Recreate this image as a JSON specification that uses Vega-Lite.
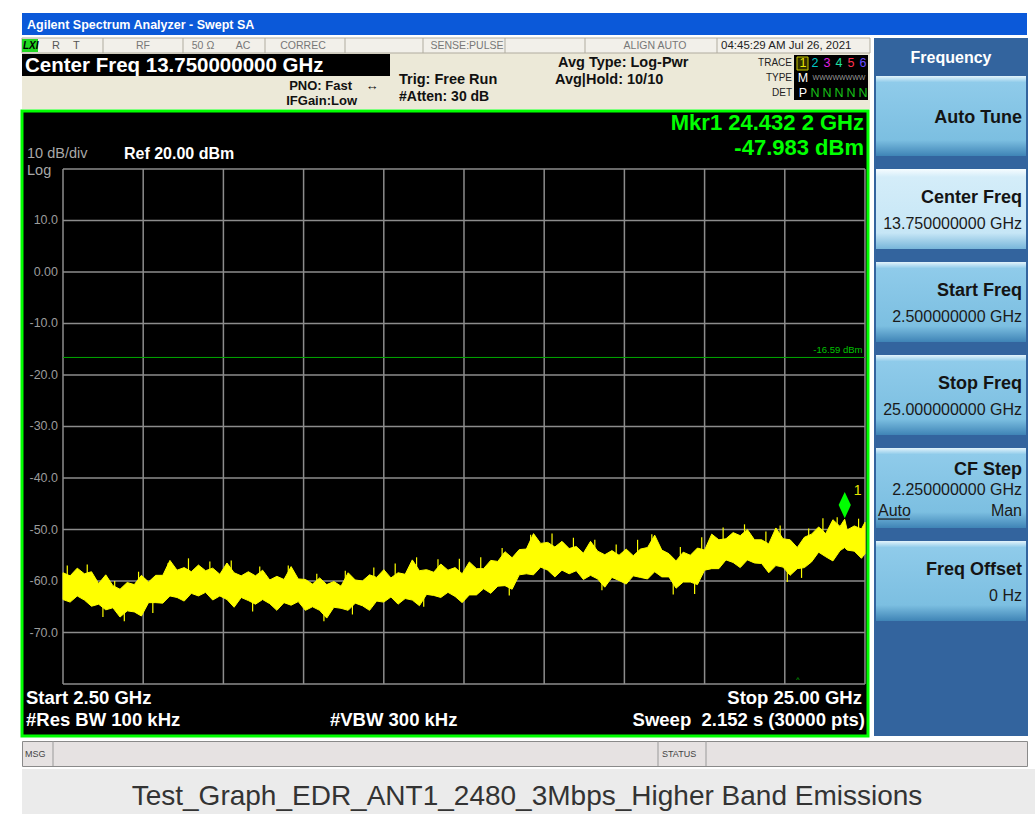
{
"$schema":"https://vega.github.io/schema/vega-lite/v6.json",
"background":"#ffffff",
"padding":{"left":20,"top":13,"right":0,"bottom":0},
"spacing":2,
"config":{"view":{"stroke":null},"font":"Liberation Sans","text":{"font":"Liberation Sans"}},
"datasets":{
"one":[{}],
"trace":[
{"f":2.5,"lo":-63.6,"hi":-58.4},{"f":2.7,"lo":-64.1,"hi":-59.0},{"f":2.9,"lo":-62.9,"hi":-57.5},{"f":3.1,"lo":-63.7,"hi":-58.6},{"f":3.3,"lo":-64.9,"hi":-58.2},{"f":3.5,"lo":-64.5,"hi":-60.5},{"f":3.7,"lo":-65.6,"hi":-58.8},{"f":3.9,"lo":-65.2,"hi":-60.9},{"f":4.1,"lo":-67.0,"hi":-61.6},{"f":4.3,"lo":-65.8,"hi":-60.3},{"f":4.5,"lo":-66.0,"hi":-60.7},{"f":4.7,"lo":-66.8,"hi":-58.9},{"f":4.9,"lo":-64.2,"hi":-60.2},{"f":5.1,"lo":-64.2,"hi":-58.9},{"f":5.3,"lo":-64.3,"hi":-58.9},{"f":5.5,"lo":-62.9,"hi":-56.0},{"f":5.7,"lo":-63.2,"hi":-57.9},{"f":5.9,"lo":-63.9,"hi":-57.4},{"f":6.1,"lo":-62.4,"hi":-58.2},{"f":6.3,"lo":-62.9,"hi":-56.9},{"f":6.5,"lo":-62.2,"hi":-58.0},{"f":6.7,"lo":-63.7,"hi":-57.5},{"f":6.9,"lo":-62.9,"hi":-58.7},{"f":7.1,"lo":-63.6,"hi":-56.5},{"f":7.3,"lo":-65.1,"hi":-58.4},{"f":7.5,"lo":-63.2,"hi":-59.0},{"f":7.7,"lo":-63.8,"hi":-58.2},{"f":7.9,"lo":-64.5,"hi":-59.0},{"f":8.1,"lo":-63.6,"hi":-57.9},{"f":8.3,"lo":-64.4,"hi":-59.8},{"f":8.5,"lo":-65.7,"hi":-59.1},{"f":8.7,"lo":-64.2,"hi":-59.7},{"f":8.9,"lo":-64.7,"hi":-57.2},{"f":9.1,"lo":-64.0,"hi":-59.6},{"f":9.3,"lo":-65.7,"hi":-59.7},{"f":9.5,"lo":-65.0,"hi":-60.6},{"f":9.7,"lo":-65.7,"hi":-59.4},{"f":9.9,"lo":-67.2,"hi":-60.7},{"f":10.1,"lo":-65.1,"hi":-60.1},{"f":10.3,"lo":-65.3,"hi":-61.0},{"f":10.5,"lo":-65.7,"hi":-58.4},{"f":10.7,"lo":-64.3,"hi":-59.8},{"f":10.9,"lo":-64.8,"hi":-60.0},{"f":11.1,"lo":-65.7,"hi":-58.8},{"f":11.3,"lo":-63.9,"hi":-59.3},{"f":11.5,"lo":-64.1,"hi":-57.8},{"f":11.7,"lo":-63.1,"hi":-59.4},{"f":11.9,"lo":-64.5,"hi":-58.4},{"f":12.1,"lo":-63.4,"hi":-58.7},{"f":12.3,"lo":-63.7,"hi":-55.9},{"f":12.5,"lo":-64.8,"hi":-58.0},{"f":12.7,"lo":-62.6,"hi":-57.8},{"f":12.9,"lo":-62.8,"hi":-58.3},{"f":13.1,"lo":-63.2,"hi":-56.7},{"f":13.3,"lo":-62.2,"hi":-57.9},{"f":13.5,"lo":-63.0,"hi":-57.4},{"f":13.7,"lo":-64.2,"hi":-58.6},{"f":13.9,"lo":-62.7,"hi":-56.3},{"f":14.1,"lo":-62.7,"hi":-57.6},{"f":14.3,"lo":-61.5,"hi":-57.6},{"f":14.5,"lo":-62.4,"hi":-56.0},{"f":14.7,"lo":-61.0,"hi":-56.2},{"f":14.9,"lo":-60.9,"hi":-54.3},{"f":15.1,"lo":-61.6,"hi":-55.5},{"f":15.3,"lo":-58.8,"hi":-53.9},{"f":15.5,"lo":-58.6,"hi":-53.8},{"f":15.7,"lo":-58.8,"hi":-50.8},{"f":15.9,"lo":-57.3,"hi":-52.7},{"f":16.1,"lo":-57.9,"hi":-52.5},{"f":16.3,"lo":-59.2,"hi":-53.4},{"f":16.5,"lo":-57.9,"hi":-52.3},{"f":16.7,"lo":-58.6,"hi":-53.7},{"f":16.9,"lo":-58.0,"hi":-53.3},{"f":17.1,"lo":-59.7,"hi":-54.6},{"f":17.3,"lo":-58.9,"hi":-52.3},{"f":17.5,"lo":-59.6,"hi":-54.2},{"f":17.7,"lo":-61.2,"hi":-54.9},{"f":17.9,"lo":-59.3,"hi":-54.1},{"f":18.1,"lo":-59.9,"hi":-55.0},{"f":18.3,"lo":-60.6,"hi":-53.8},{"f":18.5,"lo":-59.0,"hi":-55.1},{"f":18.7,"lo":-59.3,"hi":-53.8},{"f":18.9,"lo":-59.6,"hi":-53.5},{"f":19.1,"lo":-58.2,"hi":-51.1},{"f":19.3,"lo":-59.2,"hi":-54.0},{"f":19.5,"lo":-59.2,"hi":-54.7},{"f":19.7,"lo":-61.4,"hi":-56.1},{"f":19.9,"lo":-60.2,"hi":-54.4},{"f":20.1,"lo":-60.2,"hi":-55.0},{"f":20.3,"lo":-60.7,"hi":-53.6},{"f":20.5,"lo":-57.9,"hi":-54.0},{"f":20.7,"lo":-57.6,"hi":-50.9},{"f":20.9,"lo":-57.6,"hi":-52.0},{"f":21.1,"lo":-55.9,"hi":-51.8},{"f":21.3,"lo":-56.4,"hi":-50.6},{"f":21.5,"lo":-57.4,"hi":-51.2},{"f":21.7,"lo":-55.9,"hi":-50.0},{"f":21.9,"lo":-56.5,"hi":-52.0},{"f":22.1,"lo":-56.6,"hi":-52.0},{"f":22.3,"lo":-58.4,"hi":-52.8},{"f":22.5,"lo":-57.0,"hi":-49.7},{"f":22.7,"lo":-57.3,"hi":-51.8},{"f":22.9,"lo":-58.9,"hi":-52.0},{"f":23.1,"lo":-57.6,"hi":-53.5},{"f":23.3,"lo":-57.4,"hi":-51.5},{"f":23.5,"lo":-56.3,"hi":-50.9},{"f":23.7,"lo":-54.4,"hi":-49.5},{"f":23.9,"lo":-55.3,"hi":-50.8},{"f":24.1,"lo":-56.1,"hi":-48.1},{"f":24.3,"lo":-54.1,"hi":-49.4},{"f":24.43,"lo":-53.5,"hi":-48.0},{"f":24.5,"lo":-54.0,"hi":-50.1},{"f":24.7,"lo":-54.2,"hi":-49.3},{"f":24.9,"lo":-55.6,"hi":-49.9},{"f":25.0,"lo":-54.7,"hi":-48.6}
],
"spikes":[
{"f":2.62,"a":-60.9,"b":-57.0},{"f":3.18,"a":-60.9,"b":-56.8},{"f":3.95,"a":-63.3,"b":-60.0},{"f":4.62,"a":-62.7,"b":-58.2},{"f":5.45,"a":-60.9,"b":-56.5},{"f":6.02,"a":-60.0,"b":-55.6},{"f":6.62,"a":-60.3,"b":-56.2},{"f":7.22,"a":-60.7,"b":-56.0},{"f":8.02,"a":-61.4,"b":-57.2},{"f":8.82,"a":-61.9,"b":-57.0},{"f":9.62,"a":-62.6,"b":-58.6},{"f":10.42,"a":-62.6,"b":-58.0},{"f":11.22,"a":-61.7,"b":-57.4},{"f":11.82,"a":-61.1,"b":-56.6},{"f":12.42,"a":-60.6,"b":-55.4},{"f":13.02,"a":-60.1,"b":-55.8},{"f":13.62,"a":-60.3,"b":-55.7},{"f":14.22,"a":-59.8,"b":-55.4},{"f":14.82,"a":-58.2,"b":-53.6},{"f":15.62,"a":-55.7,"b":-51.0},{"f":16.22,"a":-55.2,"b":-50.8},{"f":16.82,"a":-56.0,"b":-51.6},{"f":17.42,"a":-56.5,"b":-52.0},{"f":18.02,"a":-57.2,"b":-52.9},{"f":18.62,"a":-56.6,"b":-52.0},{"f":19.02,"a":-55.8,"b":-50.9},{"f":19.82,"a":-57.8,"b":-53.4},{"f":20.42,"a":-56.0,"b":-51.5},{"f":21.02,"a":-54.0,"b":-49.6},{"f":21.62,"a":-53.6,"b":-49.0},{"f":22.22,"a":-54.8,"b":-50.4},{"f":22.62,"a":-54.4,"b":-49.2},{"f":23.42,"a":-54.2,"b":-49.8},{"f":23.82,"a":-52.4,"b":-47.8},{"f":24.22,"a":-52.0,"b":-47.6},{"f":24.82,"a":-52.2,"b":-47.9},
{"f":3.62,"a":-62.6,"b":-67.0},{"f":4.22,"a":-63.5,"b":-67.8},{"f":5.02,"a":-61.8,"b":-66.2},{"f":7.82,"a":-61.2,"b":-65.9},{"f":9.82,"a":-62.8,"b":-67.8},{"f":10.62,"a":-62.3,"b":-66.5},{"f":12.62,"a":-60.4,"b":-65.0},{"f":15.02,"a":-57.5,"b":-62.8},{"f":17.62,"a":-56.8,"b":-61.8},{"f":19.62,"a":-57.7,"b":-62.6},{"f":20.22,"a":-56.8,"b":-62.5},{"f":22.82,"a":-54.4,"b":-60.2},{"f":23.22,"a":-55.1,"b":-59.4}
],
"vgrid":[{"f":2.5},{"f":4.75},{"f":7.0},{"f":9.25},{"f":11.5},{"f":13.75},{"f":16.0},{"f":18.25},{"f":20.5},{"f":22.75},{"f":25.0}],
"hgrid":[{"p":20,"lab":""},{"p":10,"lab":"10.0"},{"p":0,"lab":"0.00"},{"p":-10,"lab":"-10.0"},{"p":-20,"lab":"-20.0"},{"p":-30,"lab":"-30.0"},{"p":-40,"lab":"-40.0"},{"p":-50,"lab":"-50.0"},{"p":-60,"lab":"-60.0"},{"p":-70,"lab":"-70.0"},{"p":-80,"lab":""}],
"keys":[
{"key":"Auto Tune","title":"Auto Tune","value":"","state":"normal"},
{"key":"Center Freq","title":"Center Freq","value":"13.750000000 GHz","state":"active"},
{"key":"Start Freq","title":"Start Freq","value":"2.500000000 GHz","state":"normal"},
{"key":"Stop Freq","title":"Stop Freq","value":"25.000000000 GHz","state":"normal"},
{"key":"CF Step","title":"CF Step","value":"2.250000000 GHz","state":"normal","left":"Auto","right":"Man"},
{"key":"Freq Offset","title":"Freq Offset","value":"0 Hz","state":"normal"}
],
"traces":[
{"tr":"1","ty":"M","det":"P"},{"tr":"2","det":"N"},{"tr":"3","det":"N"},{"tr":"4","det":"N"},{"tr":"5","det":"N"},{"tr":"6","det":"N"}
]
},
"vconcat":[
{"width":1005,"height":22,"view":{"fill":"#0b59d9","stroke":null},"data":{"name":"one"},
 "mark":{"type":"text","text":"Agilent Spectrum Analyzer - Swept SA","align":"left","baseline":"middle","fontWeight":"bold","fontSize":12.5,"color":"#ffffff"},
 "encoding":{"x":{"value":5},"y":{"value":12}}},
{"hconcat":[
 {"vconcat":[
  {"width":848,"height":71,"view":{"fill":"#ece9d8","stroke":null},"data":{"name":"one"},"layer":[
   {"mark":{"type":"rect","fill":"#f2f0ea","stroke":"#b0ac9f","strokeWidth":1},"encoding":{"x":{"value":0},"x2":{"value":848},"y":{"value":0},"y2":{"value":15}}},
   {"mark":{"type":"rule","color":"#b0ac9f"},"encoding":{"x":{"value":81},"y":{"value":0},"y2":{"value":15}}},
   {"mark":{"type":"rule","color":"#b0ac9f"},"encoding":{"x":{"value":161},"y":{"value":0},"y2":{"value":15}}},
   {"mark":{"type":"rule","color":"#b0ac9f"},"encoding":{"x":{"value":243},"y":{"value":0},"y2":{"value":15}}},
   {"mark":{"type":"rule","color":"#b0ac9f"},"encoding":{"x":{"value":323},"y":{"value":0},"y2":{"value":15}}},
   {"mark":{"type":"rule","color":"#b0ac9f"},"encoding":{"x":{"value":401},"y":{"value":0},"y2":{"value":15}}},
   {"mark":{"type":"rule","color":"#b0ac9f"},"encoding":{"x":{"value":483},"y":{"value":0},"y2":{"value":15}}},
   {"mark":{"type":"rule","color":"#b0ac9f"},"encoding":{"x":{"value":563},"y":{"value":0},"y2":{"value":15}}},
   {"mark":{"type":"rule","color":"#b0ac9f"},"encoding":{"x":{"value":695},"y":{"value":0},"y2":{"value":15}}},
   {"mark":{"type":"rect","fill":"#22d822"},"encoding":{"x":{"value":0},"x2":{"value":16},"y":{"value":1},"y2":{"value":14}}},
   {"mark":{"type":"text","text":"LXI","align":"left","baseline":"middle","fontWeight":"bold","fontStyle":"italic","fontSize":10,"color":"#000000"},"encoding":{"x":{"value":1},"y":{"value":8}}},
   {"mark":{"type":"text","text":"R","align":"left","baseline":"middle","fontSize":11,"color":"#555555"},"encoding":{"x":{"value":30},"y":{"value":8}}},
   {"mark":{"type":"text","text":"T","align":"left","baseline":"middle","fontSize":11,"color":"#555555"},"encoding":{"x":{"value":51},"y":{"value":8}}},
   {"mark":{"type":"text","text":"RF","align":"center","baseline":"middle","fontSize":10.5,"color":"#777777"},"encoding":{"x":{"value":121},"y":{"value":8}}},
   {"mark":{"type":"text","text":"50 Ω","align":"center","baseline":"middle","fontSize":10.5,"color":"#777777"},"encoding":{"x":{"value":181},"y":{"value":8}}},
   {"mark":{"type":"text","text":"AC","align":"center","baseline":"middle","fontSize":10.5,"color":"#777777"},"encoding":{"x":{"value":221},"y":{"value":8}}},
   {"mark":{"type":"text","text":"CORREC","align":"center","baseline":"middle","fontSize":10.5,"color":"#777777"},"encoding":{"x":{"value":281},"y":{"value":8}}},
   {"mark":{"type":"text","text":"SENSE:PULSE","align":"center","baseline":"middle","fontSize":10.5,"color":"#777777"},"encoding":{"x":{"value":445},"y":{"value":8}}},
   {"mark":{"type":"text","text":"ALIGN AUTO","align":"center","baseline":"middle","fontSize":10.5,"color":"#777777"},"encoding":{"x":{"value":633},"y":{"value":8}}},
   {"mark":{"type":"text","text":"04:45:29 AM Jul 26, 2021","align":"left","baseline":"middle","fontSize":11.5,"color":"#222222"},"encoding":{"x":{"value":699},"y":{"value":8}}},
   {"mark":{"type":"rect","fill":"#000000"},"encoding":{"x":{"value":0},"x2":{"value":368},"y":{"value":16},"y2":{"value":38}}},
   {"mark":{"type":"text","text":"Center Freq 13.750000000 GHz","align":"left","baseline":"middle","fontWeight":"bold","fontSize":20.5,"color":"#ffffff"},"encoding":{"x":{"value":3},"y":{"value":28}}},
   {"mark":{"type":"text","text":"PNO: Fast","align":"right","baseline":"middle","fontWeight":"bold","fontSize":13,"color":"#111111"},"encoding":{"x":{"value":330},"y":{"value":48}}},
   {"mark":{"type":"text","text":"↔","align":"center","baseline":"middle","fontSize":13,"color":"#111111"},"encoding":{"x":{"value":350},"y":{"value":48}}},
   {"mark":{"type":"text","text":"IFGain:Low","align":"right","baseline":"middle","fontWeight":"bold","fontSize":13,"color":"#111111"},"encoding":{"x":{"value":335},"y":{"value":63}}},
   {"mark":{"type":"text","text":"Trig: Free Run","align":"left","baseline":"middle","fontWeight":"bold","fontSize":14.5,"color":"#111111"},"encoding":{"x":{"value":377},"y":{"value":42}}},
   {"mark":{"type":"text","text":"#Atten: 30 dB","align":"left","baseline":"middle","fontWeight":"bold","fontSize":14,"color":"#111111"},"encoding":{"x":{"value":377},"y":{"value":59}}},
   {"mark":{"type":"text","text":"Avg Type: Log-Pwr","align":"left","baseline":"middle","fontWeight":"bold","fontSize":14.5,"color":"#111111"},"encoding":{"x":{"value":536},"y":{"value":25}}},
   {"mark":{"type":"text","text":"Avg|Hold: 10/10","align":"left","baseline":"middle","fontWeight":"bold","fontSize":14.5,"color":"#111111"},"encoding":{"x":{"value":533},"y":{"value":42}}},
   {"mark":{"type":"text","text":"TRACE","align":"right","baseline":"middle","fontSize":10,"color":"#222222"},"encoding":{"x":{"value":770},"y":{"value":25}}},
   {"mark":{"type":"text","text":"TYPE","align":"right","baseline":"middle","fontSize":10,"color":"#222222"},"encoding":{"x":{"value":770},"y":{"value":40}}},
   {"mark":{"type":"text","text":"DET","align":"right","baseline":"middle","fontSize":10,"color":"#222222"},"encoding":{"x":{"value":770},"y":{"value":55}}},
   {"mark":{"type":"rect","fill":"#000000"},"encoding":{"x":{"value":772},"x2":{"value":846},"y":{"value":17},"y2":{"value":62}}},
   {"mark":{"type":"rect","fill":"#303000","stroke":"#c8c800","strokeWidth":1},"encoding":{"x":{"value":775},"x2":{"value":786},"y":{"value":19},"y2":{"value":32}}},
   {"mark":{"type":"text","text":"WWWWWWWW","align":"center","baseline":"middle","fontSize":7,"color":"#9a9a9a"},"encoding":{"x":{"value":817},"y":{"value":40}}},
   {"data":{"name":"traces"},"mark":{"type":"text","align":"center","baseline":"middle","fontSize":12.5},"encoding":{"x":{"field":"tr","type":"nominal","scale":{"domain":["1","2","3","4","5","6"],"range":[775,847],"paddingInner":0,"paddingOuter":0},"axis":null},"y":{"value":25},"text":{"field":"tr"},"color":{"field":"tr","type":"nominal","scale":{"domain":["1","2","3","4","5","6"],"range":["#e8e800","#00c8c8","#e020e0","#20e0a0","#ff3050","#6a4cff"]},"legend":null}}},
   {"data":{"name":"traces"},"transform":[{"filter":"datum.tr == '1'"}],"mark":{"type":"text","align":"center","baseline":"middle","fontSize":12.5,"color":"#ffffff"},"encoding":{"x":{"field":"tr","type":"nominal","scale":{"domain":["1","2","3","4","5","6"],"range":[775,847],"paddingInner":0,"paddingOuter":0},"axis":null},"y":{"value":40},"text":{"field":"ty"}}},
   {"data":{"name":"traces"},"transform":[{"filter":"datum.tr == '1'"}],"mark":{"type":"text","align":"center","baseline":"middle","fontSize":12.5,"color":"#ffffff"},"encoding":{"x":{"field":"tr","type":"nominal","scale":{"domain":["1","2","3","4","5","6"],"range":[775,847],"paddingInner":0,"paddingOuter":0},"axis":null},"y":{"value":55},"text":{"field":"det"}}},
   {"data":{"name":"traces"},"transform":[{"filter":"datum.tr != '1'"}],"mark":{"type":"text","align":"center","baseline":"middle","fontSize":12.5,"color":"#18c018"},"encoding":{"x":{"field":"tr","type":"nominal","scale":{"domain":["1","2","3","4","5","6"],"range":[775,847],"paddingInner":0,"paddingOuter":0},"axis":null},"y":{"value":55},"text":{"field":"det"}}}
  ]},
  {"width":846,"height":625,"view":{"fill":"#000000","stroke":"#00ff00","strokeWidth":3},"data":{"name":"one"},"layer":[
   {"data":{"name":"vgrid"},"mark":{"type":"rule","color":"#8c8c8c","strokeWidth":1.5},"encoding":{"x":{"field":"f","type":"quantitative","scale":{"domain":[1.3497,25.0845],"nice":false,"zero":false},"axis":null},"y":{"datum":-80,"type":"quantitative","scale":{"domain":[-90.097,31.262],"nice":false,"zero":false},"axis":null},"y2":{"datum":20}}},
   {"data":{"name":"hgrid"},"mark":{"type":"rule","color":"#8c8c8c","strokeWidth":1.5},"encoding":{"x":{"datum":2.5,"type":"quantitative","scale":{"domain":[1.3497,25.0845],"nice":false,"zero":false},"axis":null},"x2":{"datum":25},"y":{"field":"p","type":"quantitative","scale":{"domain":[-90.097,31.262],"nice":false,"zero":false},"axis":null}}},
   {"data":{"name":"hgrid"},"mark":{"type":"text","align":"right","baseline":"middle","dx":-5,"fontSize":12.5,"color":"#9c9c9c"},"encoding":{"x":{"datum":2.5,"type":"quantitative","scale":{"domain":[1.3497,25.0845],"nice":false,"zero":false},"axis":null},"y":{"field":"p","type":"quantitative","scale":{"domain":[-90.097,31.262],"nice":false,"zero":false},"axis":null},"text":{"field":"lab"}}},
   {"data":{"values":[{"limit":-16.59}]},"mark":{"type":"rule","color":"#00a800","strokeWidth":1},"encoding":{"x":{"datum":2.5,"type":"quantitative","scale":{"domain":[1.3497,25.0845],"nice":false,"zero":false},"axis":null},"x2":{"datum":25},"y":{"field":"limit","type":"quantitative","scale":{"domain":[-90.097,31.262],"nice":false,"zero":false},"axis":null}}},
   {"data":{"values":[{"limit":-16.59,"label":"-16.59 dBm"}]},"mark":{"type":"text","align":"right","baseline":"bottom","dy":-2,"fontSize":9.5,"color":"#00c000"},"encoding":{"x":{"datum":24.93,"type":"quantitative","scale":{"domain":[1.3497,25.0845],"nice":false,"zero":false},"axis":null},"y":{"field":"limit","type":"quantitative","scale":{"domain":[-90.097,31.262],"nice":false,"zero":false},"axis":null},"text":{"field":"label"}}},
   {"data":{"name":"trace"},"mark":{"type":"area","color":"#ffff00","stroke":"#ffff00","strokeWidth":1,"interpolate":"linear"},"encoding":{"x":{"field":"f","type":"quantitative","scale":{"domain":[1.3497,25.0845],"nice":false,"zero":false},"axis":null},"y":{"field":"hi","type":"quantitative","scale":{"domain":[-90.097,31.262],"nice":false,"zero":false},"axis":null},"y2":{"field":"lo"}}},
   {"data":{"name":"spikes"},"mark":{"type":"rule","color":"#ffff00","strokeWidth":1.2},"encoding":{"x":{"field":"f","type":"quantitative","scale":{"domain":[1.3497,25.0845],"nice":false,"zero":false},"axis":null},"y":{"field":"a","type":"quantitative","scale":{"domain":[-90.097,31.262],"nice":false,"zero":false},"axis":null},"y2":{"field":"b"}}},
   {"data":{"values":[{"f":24.4322,"p":-47.983,"name":"1"}]},"mark":{"type":"point","shape":"M0,-1L0.46,0L0,1L-0.46,0Z","filled":true,"size":700,"color":"#00ff00","opacity":1,"yOffset":-14},"encoding":{"x":{"field":"f","type":"quantitative","scale":{"domain":[1.3497,25.0845],"nice":false,"zero":false},"axis":null},"y":{"field":"p","type":"quantitative","scale":{"domain":[-90.097,31.262],"nice":false,"zero":false},"axis":null}}},
   {"data":{"values":[{"f":24.4322,"p":-47.983,"name":"1"}]},"mark":{"type":"text","align":"left","baseline":"middle","dx":9,"dy":-28,"fontSize":14,"color":"#e6e600"},"encoding":{"x":{"field":"f","type":"quantitative","scale":{"domain":[1.3497,25.0845],"nice":false,"zero":false},"axis":null},"y":{"field":"p","type":"quantitative","scale":{"domain":[-90.097,31.262],"nice":false,"zero":false},"axis":null},"text":{"field":"name"}}},
   {"mark":{"type":"text","text":"10 dB/div","align":"left","baseline":"middle","fontSize":14.5,"color":"#a8a8a8"},"encoding":{"x":{"datum":1.49,"type":"quantitative","scale":{"domain":[1.3497,25.0845],"nice":false,"zero":false},"axis":null},"y":{"datum":22.95,"type":"quantitative","scale":{"domain":[-90.097,31.262],"nice":false,"zero":false},"axis":null}}},
   {"mark":{"type":"text","text":"Log","align":"left","baseline":"middle","fontSize":14.5,"color":"#a8a8a8"},"encoding":{"x":{"datum":1.49,"type":"quantitative","scale":{"domain":[1.3497,25.0845],"nice":false,"zero":false},"axis":null},"y":{"datum":19.6,"type":"quantitative","scale":{"domain":[-90.097,31.262],"nice":false,"zero":false},"axis":null}}},
   {"mark":{"type":"text","text":"Ref 20.00 dBm","align":"left","baseline":"middle","fontSize":16,"fontWeight":"bold","color":"#ffffff"},"encoding":{"x":{"datum":4.21,"type":"quantitative","scale":{"domain":[1.3497,25.0845],"nice":false,"zero":false},"axis":null},"y":{"datum":23.0,"type":"quantitative","scale":{"domain":[-90.097,31.262],"nice":false,"zero":false},"axis":null}}},
   {"mark":{"type":"text","text":"Mkr1 24.432 2 GHz","align":"right","baseline":"middle","fontSize":22,"fontWeight":"bold","color":"#00ff00"},"encoding":{"x":{"datum":24.972,"type":"quantitative","scale":{"domain":[1.3497,25.0845],"nice":false,"zero":false},"axis":null},"y":{"datum":28.95,"type":"quantitative","scale":{"domain":[-90.097,31.262],"nice":false,"zero":false},"axis":null}}},
   {"mark":{"type":"text","text":"-47.983 dBm","align":"right","baseline":"middle","fontSize":22,"fontWeight":"bold","color":"#00ff00"},"encoding":{"x":{"datum":24.972,"type":"quantitative","scale":{"domain":[1.3497,25.0845],"nice":false,"zero":false},"axis":null},"y":{"datum":24.1,"type":"quantitative","scale":{"domain":[-90.097,31.262],"nice":false,"zero":false},"axis":null}}},
   {"mark":{"type":"text","text":"Start 2.50 GHz","align":"left","baseline":"middle","fontSize":18.5,"fontWeight":"bold","color":"#ffffff"},"encoding":{"x":{"datum":1.462,"type":"quantitative","scale":{"domain":[1.3497,25.0845],"nice":false,"zero":false},"axis":null},"y":{"datum":-82.7,"type":"quantitative","scale":{"domain":[-90.097,31.262],"nice":false,"zero":false},"axis":null}}},
   {"mark":{"type":"text","text":"Stop 25.00 GHz","align":"right","baseline":"middle","fontSize":18.5,"fontWeight":"bold","color":"#ffffff"},"encoding":{"x":{"datum":24.916,"type":"quantitative","scale":{"domain":[1.3497,25.0845],"nice":false,"zero":false},"axis":null},"y":{"datum":-82.7,"type":"quantitative","scale":{"domain":[-90.097,31.262],"nice":false,"zero":false},"axis":null}}},
   {"mark":{"type":"text","text":"#Res BW 100 kHz","align":"left","baseline":"middle","fontSize":18.5,"fontWeight":"bold","color":"#ffffff"},"encoding":{"x":{"datum":1.462,"type":"quantitative","scale":{"domain":[1.3497,25.0845],"nice":false,"zero":false},"axis":null},"y":{"datum":-86.9,"type":"quantitative","scale":{"domain":[-90.097,31.262],"nice":false,"zero":false},"axis":null}}},
   {"mark":{"type":"text","text":"#VBW 300 kHz","align":"left","baseline":"middle","fontSize":18.5,"fontWeight":"bold","color":"#ffffff"},"encoding":{"x":{"datum":9.99,"type":"quantitative","scale":{"domain":[1.3497,25.0845],"nice":false,"zero":false},"axis":null},"y":{"datum":-86.9,"type":"quantitative","scale":{"domain":[-90.097,31.262],"nice":false,"zero":false},"axis":null}}},
   {"mark":{"type":"text","text":"Sweep\u00a0\u00a02.152 s (30000 pts)","align":"right","baseline":"middle","fontSize":18.5,"fontWeight":"bold","color":"#ffffff"},"encoding":{"x":{"datum":25.0,"type":"quantitative","scale":{"domain":[1.3497,25.0845],"nice":false,"zero":false},"axis":null},"y":{"datum":-86.9,"type":"quantitative","scale":{"domain":[-90.097,31.262],"nice":false,"zero":false},"axis":null}}},
   {"mark":{"type":"text","text":"^","align":"center","baseline":"middle","fontSize":7,"color":"#00d000"},"encoding":{"x":{"datum":23.12,"type":"quantitative","scale":{"domain":[1.3497,25.0845],"nice":false,"zero":false},"axis":null},"y":{"datum":-79.2,"type":"quantitative","scale":{"domain":[-90.097,31.262],"nice":false,"zero":false},"axis":null}}}
  ]}
 ],"spacing":0},
 {"width":154,"height":698,"view":{"fill":"#33649e","stroke":null},"data":{"name":"one"},"layer":[
  {"mark":{"type":"text","text":"Frequency","align":"center","baseline":"middle","fontWeight":"bold","fontSize":16,"color":"#ffffff"},"encoding":{"x":{"value":77},"y":{"value":20}}},
  {"data":{"name":"keys"},"transform":[{"filter":"datum.state == 'normal'"}],"mark":{"type":"rect","fill":{"gradient":"linear","x1":0,"y1":0,"x2":0,"y2":1,"stops":[{"offset":0,"color":"#e2f3fb"},{"offset":0.08,"color":"#8fcbea"},{"offset":0.8,"color":"#7cbfe1"},{"offset":1,"color":"#3f84b6"}]}},"encoding":{"y":{"field":"key","type":"nominal","scale":{"domain":["Auto Tune","Center Freq","Start Freq","Stop Freq","CF Step","Freq Offset"],"range":[38,698],"paddingInner":0.14,"paddingOuter":0.618,"align":0},"axis":null},"x":{"value":2},"x2":{"value":152}}},
  {"data":{"name":"keys"},"transform":[{"filter":"datum.state == 'active'"}],"mark":{"type":"rect","fill":{"gradient":"linear","x1":0,"y1":0,"x2":0,"y2":1,"stops":[{"offset":0,"color":"#f6fcff"},{"offset":0.1,"color":"#d4edf9"},{"offset":0.8,"color":"#c6e6f6"},{"offset":1,"color":"#78b6da"}]}},"encoding":{"y":{"field":"key","type":"nominal","scale":{"domain":["Auto Tune","Center Freq","Start Freq","Stop Freq","CF Step","Freq Offset"],"range":[38,698],"paddingInner":0.14,"paddingOuter":0.618,"align":0},"axis":null},"x":{"value":2},"x2":{"value":152}}},
  {"data":{"name":"keys"},"transform":[{"filter":"datum.value != '' && !datum.left"}],"mark":{"type":"text","align":"right","baseline":"middle","dy":-11,"fontWeight":"bold","fontSize":18,"color":"#141414"},"encoding":{"y":{"field":"key","type":"nominal","scale":{"domain":["Auto Tune","Center Freq","Start Freq","Stop Freq","CF Step","Freq Offset"],"range":[38,698],"paddingInner":0.14,"paddingOuter":0.618,"align":0},"axis":null},"x":{"value":148},"text":{"field":"title"}}},
  {"data":{"name":"keys"},"transform":[{"filter":"datum.value == ''"}],"mark":{"type":"text","align":"right","baseline":"middle","dy":2,"fontWeight":"bold","fontSize":18,"color":"#141414"},"encoding":{"y":{"field":"key","type":"nominal","scale":{"domain":["Auto Tune","Center Freq","Start Freq","Stop Freq","CF Step","Freq Offset"],"range":[38,698],"paddingInner":0.14,"paddingOuter":0.618,"align":0},"axis":null},"x":{"value":148},"text":{"field":"title"}}},
  {"data":{"name":"keys"},"transform":[{"filter":"datum.left"}],"mark":{"type":"text","align":"right","baseline":"middle","dy":-18,"fontWeight":"bold","fontSize":18,"color":"#141414"},"encoding":{"y":{"field":"key","type":"nominal","scale":{"domain":["Auto Tune","Center Freq","Start Freq","Stop Freq","CF Step","Freq Offset"],"range":[38,698],"paddingInner":0.14,"paddingOuter":0.618,"align":0},"axis":null},"x":{"value":148},"text":{"field":"title"}}},
  {"data":{"name":"keys"},"transform":[{"filter":"datum.value != '' && !datum.left"}],"mark":{"type":"text","align":"right","baseline":"middle","dy":15,"fontSize":16,"color":"#1a1a1a"},"encoding":{"y":{"field":"key","type":"nominal","scale":{"domain":["Auto Tune","Center Freq","Start Freq","Stop Freq","CF Step","Freq Offset"],"range":[38,698],"paddingInner":0.14,"paddingOuter":0.618,"align":0},"axis":null},"x":{"value":148},"text":{"field":"value"}}},
  {"data":{"name":"keys"},"transform":[{"filter":"datum.left"}],"mark":{"type":"text","align":"right","baseline":"middle","dy":2,"fontSize":16,"color":"#1a1a1a"},"encoding":{"y":{"field":"key","type":"nominal","scale":{"domain":["Auto Tune","Center Freq","Start Freq","Stop Freq","CF Step","Freq Offset"],"range":[38,698],"paddingInner":0.14,"paddingOuter":0.618,"align":0},"axis":null},"x":{"value":148},"text":{"field":"value"}}},
  {"data":{"name":"keys"},"transform":[{"filter":"datum.left"}],"mark":{"type":"text","align":"left","baseline":"middle","dy":23,"fontSize":16,"color":"#1a1a1a"},"encoding":{"y":{"field":"key","type":"nominal","scale":{"domain":["Auto Tune","Center Freq","Start Freq","Stop Freq","CF Step","Freq Offset"],"range":[38,698],"paddingInner":0.14,"paddingOuter":0.618,"align":0},"axis":null},"x":{"value":4},"text":{"field":"left"}}},
  {"data":{"name":"keys"},"transform":[{"filter":"datum.left"}],"mark":{"type":"rule","color":"#1a1a1a","strokeWidth":1.2,"yOffset":31},"encoding":{"y":{"field":"key","type":"nominal","scale":{"domain":["Auto Tune","Center Freq","Start Freq","Stop Freq","CF Step","Freq Offset"],"range":[38,698],"paddingInner":0.14,"paddingOuter":0.618,"align":0},"axis":null},"x":{"value":4},"x2":{"value":36}}},
  {"data":{"name":"keys"},"transform":[{"filter":"datum.left"}],"mark":{"type":"text","align":"right","baseline":"middle","dy":23,"fontSize":16,"color":"#1a1a1a"},"encoding":{"y":{"field":"key","type":"nominal","scale":{"domain":["Auto Tune","Center Freq","Start Freq","Stop Freq","CF Step","Freq Offset"],"range":[38,698],"paddingInner":0.14,"paddingOuter":0.618,"align":0},"axis":null},"x":{"value":148},"text":{"field":"right"}}}
 ]}
],"spacing":3},
{"width":1005,"height":25,"view":{"fill":"#e6e2e2","stroke":"#8a8a8a"},"data":{"name":"one"},"layer":[
 {"mark":{"type":"rule","color":"#9a9a9a"},"encoding":{"x":{"value":31},"y":{"value":0},"y2":{"value":25}}},
 {"mark":{"type":"rule","color":"#9a9a9a"},"encoding":{"x":{"value":636},"y":{"value":0},"y2":{"value":25}}},
 {"mark":{"type":"rule","color":"#9a9a9a"},"encoding":{"x":{"value":684},"y":{"value":0},"y2":{"value":25}}},
 {"mark":{"type":"text","text":"MSG","align":"left","baseline":"middle","fontSize":9,"color":"#444444"},"encoding":{"x":{"value":3},"y":{"value":13}}},
 {"mark":{"type":"text","text":"STATUS","align":"left","baseline":"middle","fontSize":9,"color":"#444444"},"encoding":{"x":{"value":640},"y":{"value":13}}}
]},
{"width":1015,"height":50,"view":{"fill":"#ebebeb","stroke":null},"data":{"name":"one"},
 "mark":{"type":"text","text":"Test_Graph_EDR_ANT1_2480_3Mbps_Higher Band Emissions","align":"center","baseline":"middle","fontSize":28,"color":"#333333"},
 "encoding":{"x":{"value":505},"y":{"value":28}}}
]
}
